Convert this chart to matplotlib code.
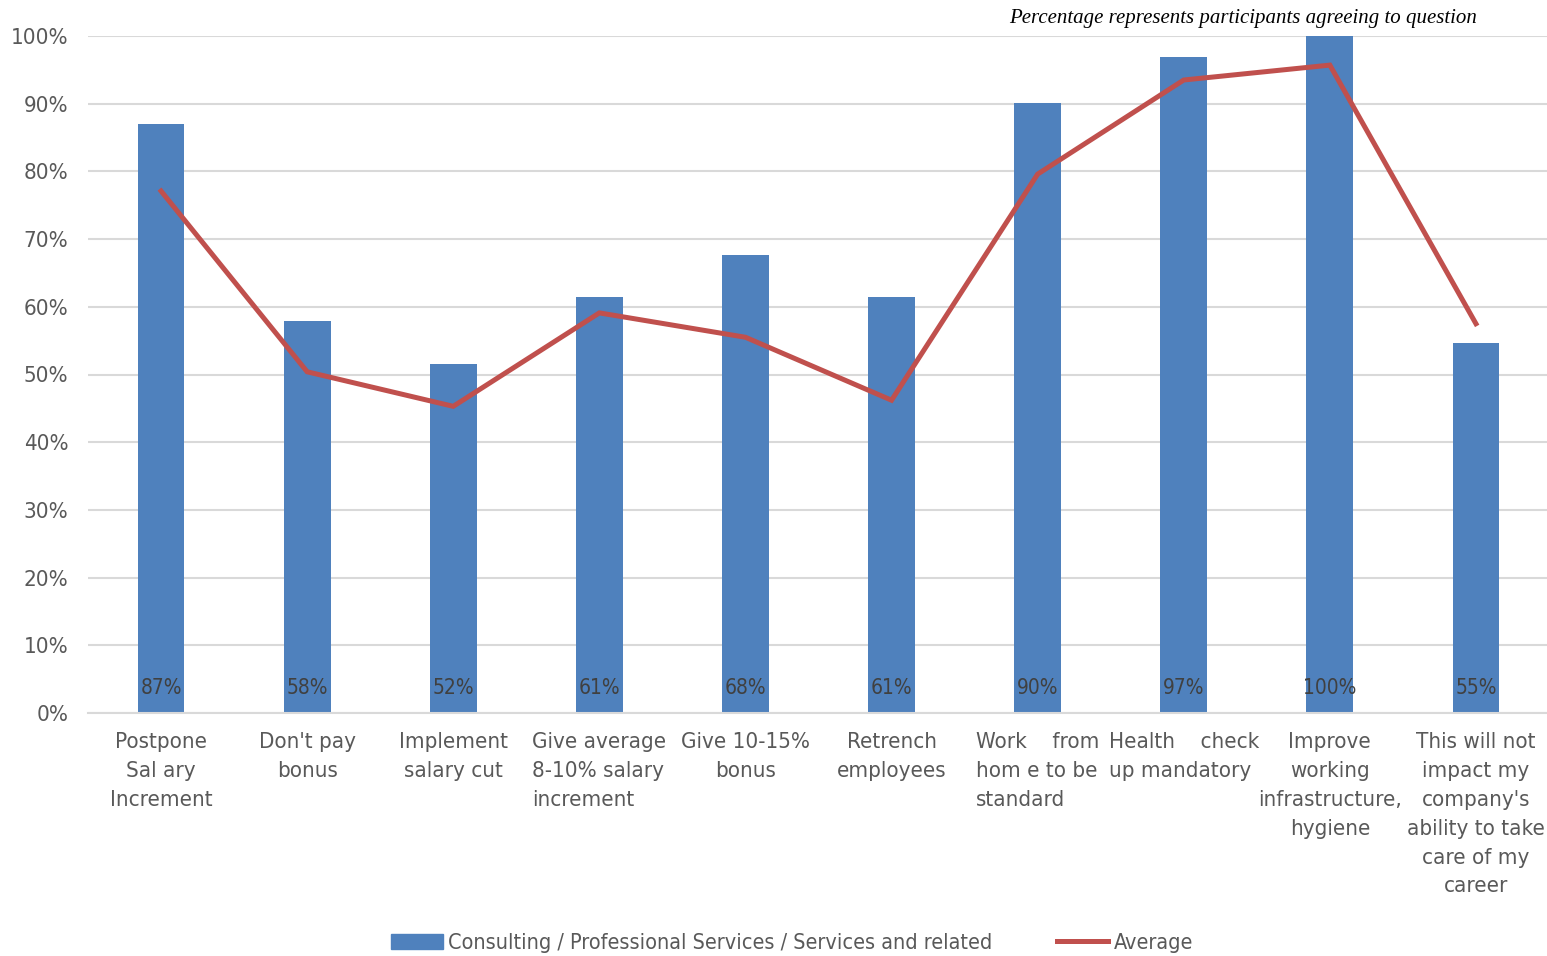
import matplotlib
matplotlib.use("Agg")
import matplotlib.pyplot as plt
from matplotlib.patches import Patch
from matplotlib.lines import Line2D

categories = [
    "Postpone\nSal ary\nIncrement",
    "Don't pay\nbonus",
    "Implement\nsalary cut",
    "Give average\n8-10% salary\nincrement",
    "Give 10-15%\nbonus",
    "Retrench\nemployees",
    "Work    from\nhom e to be\nstandard",
    "Health    check\nup mandatory",
    "Improve\nworking\ninfrastructure,\nhygiene",
    "This will not\nimpact my\ncompany's\nability to take\ncare of my\ncareer",
]
label_align = ["center", "center", "center", "left", "center",
               "center", "left", "left", "center", "center"]
sector_values = [87.0, 57.9, 51.6, 61.4, 67.7, 61.4, 90.1, 96.9, 100.0, 54.7]
average_values = [77.1, 50.4, 45.3, 59.1, 55.5, 46.2, 79.6, 93.5, 95.7, 57.5]
y_ticks = [0, 10, 20, 30, 40, 50, 60, 70, 80, 90, 100]

series_name = "Consulting / Professional Services / Services and related"
line_name = "Average"
note = "Percentage represents participants agreeing to question"

bar_color = "#4F81BD"
line_color = "#C0504D"
text_color = "#595959"
grid_color = "#D9D9D9"

plt.rcParams["font.family"] = ["DejaVu Sans"]
plt.rcParams["font.stretch"] = "condensed"

fig = plt.figure(figsize=(15.47, 9.56), dpi=100)
ax = fig.add_axes([88 / 1547, 1 - 713 / 956, (1549 - 88) / 1547, (713 - 36) / 956])

x = list(range(len(categories)))
ax.bar(x, sector_values, width=0.32, color=bar_color, zorder=2)
ax.plot(x, average_values, color=line_color, lw=3.6, zorder=3, solid_joinstyle="miter")

for xi, v in zip(x, sector_values):
    ax.text(xi, 3.7, f"{v:.0f}%", ha="center", va="center",
            fontsize=15, color="#404040", zorder=4)

ax.set_xlim(-0.5, len(categories) - 0.5)
ax.set_ylim(0, 100)
ax.set_yticks(y_ticks)
ax.set_yticklabels([f"{t}%" for t in y_ticks], fontsize=16, color=text_color)
ax.set_xticks(x)
ax.set_xticklabels(categories, fontsize=16, color=text_color, linespacing=1.55,
                   va="top")
for lbl, al in zip(ax.get_xticklabels(), label_align):
    lbl.set_multialignment(al)
ax.tick_params(axis="both", length=0)
ax.tick_params(axis="x", pad=14)
ax.tick_params(axis="y", pad=14)

ax.grid(axis="y", color=grid_color, lw=1.5, zorder=0)
ax.set_axisbelow(True)
for side in ["top", "right", "left"]:
    ax.spines[side].set_visible(False)
ax.spines["bottom"].set_color(grid_color)
ax.spines["bottom"].set_linewidth(1.5)

fig.text(1243 / 1547, 1 - 18 / 956, note, ha="center", va="center",
         fontsize=15, style="italic", family="Liberation Serif",
         stretch="normal", color="#000000")

handles = [Patch(color=bar_color, label=series_name),
           Line2D([0], [0], color=line_color, lw=3.6, label=line_name)]
fig.legend(handles=handles, loc="center", bbox_to_anchor=(792 / 1547, 1 - 943 / 956),
           ncol=2, frameon=False, fontsize=15.5, labelcolor=text_color,
           handlelength=2.4, handleheight=0.7, columnspacing=3.0, handletextpad=0.25)

fig.savefig("out.png", dpi=100, facecolor="white")
